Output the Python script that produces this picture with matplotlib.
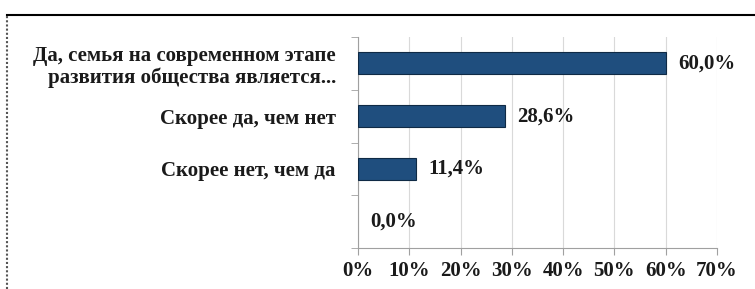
import matplotlib.pyplot as plt
from matplotlib.lines import Line2D

# answers, top to bottom
categories = ["Да, семья на современном этапе\nразвития общества является...",
              "Скорее да, чем нет",
              "Скорее нет, чем да",
              ""]
values = [60.0, 28.6, 11.4, 0.0]
xticks = [0, 10, 20, 30, 40, 50, 60, 70]

plt.rcParams['font.family'] = ['Liberation Serif', 'DejaVu Serif']
plt.rcParams['font.weight'] = 'bold'

fig = plt.figure(figsize=(7.55, 2.89), dpi=100)
ax = fig.add_axes([358 / 755, 1 - 248 / 289, (717 - 358) / 755, (248 - 37) / 289])

pos = list(range(len(values)))[::-1]
# no outline on the empty bar so it doesn't leave a sliver at 0
widths = [0.8 if v > 0 else 0 for v in values]
ax.barh(pos, values, height=0.42, color='#1F4E7E', edgecolor='#0F2A45', linewidth=widths, zorder=3)

for p, v in zip(pos, values):
    ax.text(v + 2.4, p, f"{v:.1f}%".replace('.', ','), va='center', ha='left',
            fontsize=15, fontweight='bold', color='#1a1a1a')

ax.set_xlim(0, 70)
ax.set_ylim(-0.5, len(values) - 0.5)
ax.set_xticks(xticks)
ax.set_xticklabels([f"{t}%" for t in xticks], fontsize=15, fontweight='bold', color='#1a1a1a')
ax.set_yticks(pos)
ax.set_yticklabels(categories, fontsize=15, fontweight='bold', color='#1a1a1a', linespacing=1.1)
ax.set_yticks([p + 0.5 for p in pos] + [-0.5], minor=True)
ax.tick_params(axis='y', which='major', length=0, pad=16)
ax.tick_params(axis='y', which='minor', length=5, color='#a0a0a0')
ax.tick_params(axis='x', length=5, color='#a0a0a0', pad=4)

ax.grid(axis='x', color='#d9d9d9', linewidth=0.8, zorder=0)
for s in ['top', 'right']:
    ax.spines[s].set_visible(False)
for s in ['left', 'bottom']:
    ax.spines[s].set_color('#a0a0a0')

# outer frame (only top and left edges visible in the crop)
fig.add_artist(Line2D([7 / 755, 1], [1 - 15 / 289, 1 - 15 / 289], color='black', linewidth=1.5))
fig.add_artist(Line2D([7 / 755, 7 / 755], [0, 1 - 15 / 289], color='#555555', linewidth=1.5, linestyle=(0, (1, 1))))

fig.savefig('out.png', dpi=100)
